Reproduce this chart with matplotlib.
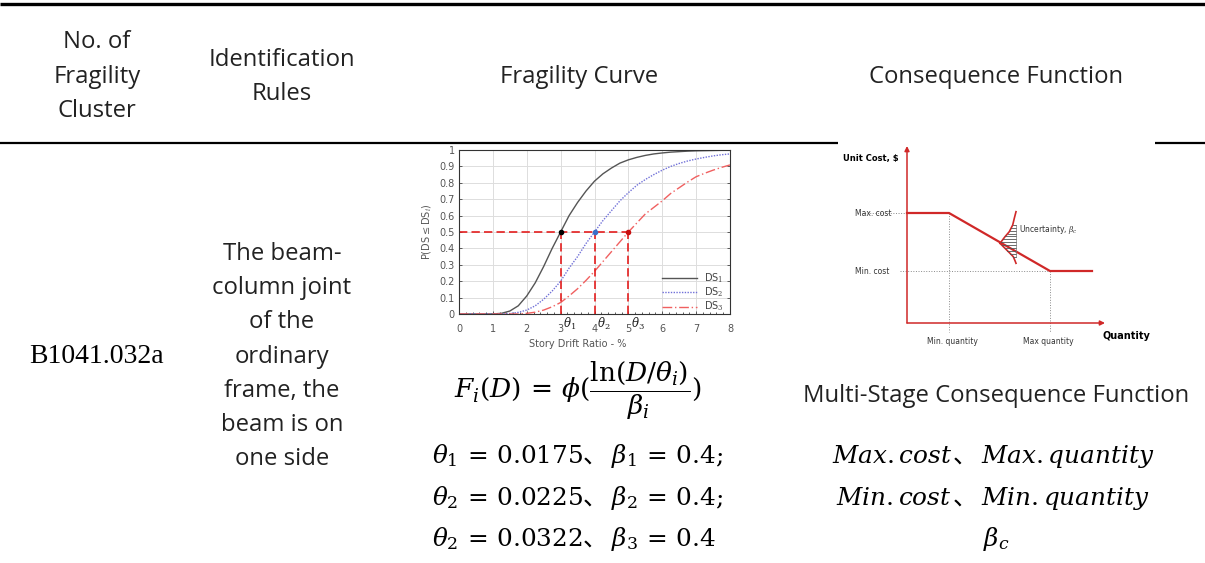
import numpy as np
import matplotlib
matplotlib.use('Agg')
import matplotlib.pyplot as plt
from matplotlib.ticker import MultipleLocator

W, H = 1205, 563

# ---------------- data ----------------
col_x = [97, 282, 579, 996]
header_lines = [["No. of", "Fragility", "Cluster"], ["Identification", "Rules"],
                ["Fragility Curve"], ["Consequence Function"]]
header_base = [[48, 83, 117], [66, 100], [83], [83]]
cluster_id = "B1041.032a"
rule_lines = ["The beam-", "column joint", "of the", "ordinary",
              "frame, the", "beam is on", "one side"]
rule_base = [260, 294, 328.5, 363, 397, 431, 465]

drift = [0, 0.25, 0.5, 0.75, 1, 1.25, 1.5, 1.75, 2, 2.25, 2.5, 2.75, 3, 3.25, 3.5, 3.75, 4,
         4.25, 4.5, 4.75, 5, 5.25, 5.5, 5.75, 6, 6.25, 6.5, 6.75, 7, 7.25, 7.5, 7.75, 8]
ds1 = [0, 0, 0, 0, 0.0004, 0.004, 0.018, 0.05, 0.11, 0.19, 0.29, 0.40, 0.50, 0.60, 0.68, 0.75, 0.81,
       0.855, 0.89, 0.92, 0.94, 0.955, 0.967, 0.976, 0.982, 0.987, 0.99, 0.993, 0.995, 0.996, 0.997, 0.998, 0.998]
ds2 = [0, 0, 0, 0, 0, 0, 0.003, 0.01, 0.024, 0.05, 0.09, 0.14, 0.20, 0.28, 0.35, 0.43, 0.50,
       0.57, 0.63, 0.69, 0.74, 0.785, 0.82, 0.85, 0.877, 0.90, 0.918, 0.933, 0.945, 0.955, 0.964, 0.971, 0.976]
ds3 = [0, 0, 0, 0, 0, 0, 0, 0, 0.004, 0.011, 0.024, 0.044, 0.07, 0.11, 0.154, 0.205, 0.26,
       0.32, 0.38, 0.44, 0.50, 0.555, 0.61, 0.65, 0.69, 0.735, 0.77, 0.805, 0.837, 0.858, 0.877, 0.894, 0.909]
medians = [3, 4, 5]
p_median = 0.5
ds_labels = [r'DS$_1$', r'DS$_2$', r'DS$_3$']
theta_labels = [r'$\theta_1$', r'$\theta_2$', r'$\theta_3$']

# consequence function schematic (arbitrary units)
cq = [0, 42, 143, 185]          # quantity
cc = [110, 110, 52, 52]         # unit cost
q_axis_len, c_axis_len = 198, 177
unc_up_q = [93, 98, 102.3, 105.7, 107.3, 109]
unc_up_c = [79.7, 86.3, 91.3, 98, 104.7, 111.3]
unc_lo_q = [93, 98, 103, 106.3, 108, 109]
unc_lo_c = [79.7, 74.7, 69.7, 66.3, 62.3, 59.7]

formula = r'$F_i(D)\,=\,\phi(\dfrac{\ln(D/\theta_i)}{\beta_i})$'
theta_left = [r'$\theta_1\,=\,0.0175$', r'$\theta_2\,=\,0.0225$', r'$\theta_2\,=\,0.0322$']
theta_right = [r'$\beta_1\,=\,0.4;$', r'$\beta_2\,=\,0.4;$', r'$\beta_3\,=\,0.4$']
cons_left = [r'$Max.cost$', r'$Min.cost$']
cons_right = [r'$Max.quantity$', r'$Min.quantity$']

# ---------------- style ----------------
plt.rcParams['mathtext.fontset'] = 'dejavuserif'
plt.rcParams['font.family'] = ['Open Sans', 'DejaVu Sans']

fig = plt.figure(figsize=(W / 100, H / 100), dpi=100)
bg = fig.add_axes([0, 0, 1, 1], zorder=0)
bg.set_xlim(0, W)
bg.set_ylim(H, 0)
bg.axis('off')

# table rules
bg.plot([0, W], [4.3, 4.3], color='black', lw=2.4, solid_capstyle='butt')
bg.plot([0, 838], [143.3, 143.3], color='black', lw=1.6, solid_capstyle='butt')
bg.plot([1155, W], [143.3, 143.3], color='black', lw=1.6, solid_capstyle='butt')

FS = 17.2
TXT = '#222222'
for x, lines, bases in zip(col_x, header_lines, header_base):
    for t, b in zip(lines, bases):
        bg.text(x, b, t, ha='center', va='baseline', fontsize=FS, color=TXT)

bg.text(col_x[0], 363, cluster_id, ha='center', va='baseline', fontsize=20,
        family='Liberation Serif', color='black')
for t, b in zip(rule_lines, rule_base):
    bg.text(col_x[1], b, t, ha='center', va='baseline', fontsize=FS, color=TXT)

bg.text(col_x[3], 402, "Multi-Stage Consequence Function", ha='center', va='baseline',
        fontsize=FS, color=TXT)

# formula
bg.text(578, 391, formula, ha='center', va='center', fontsize=19, color='black')
MF = 17.8
theta_base = [463, 505, 546]
for l, r, b in zip(theta_left, theta_right, theta_base):
    bg.text(583, b, l, ha='right', va='baseline', fontsize=MF)
    bg.text(583, b, '、', ha='left', va='baseline', fontsize=MF, family='Noto Sans CJK SC')
    bg.text(611, b, r, ha='left', va='baseline', fontsize=MF)
for l, r, b in zip(cons_left, cons_right, theta_base[:2]):
    bg.text(952, b, l, ha='right', va='baseline', fontsize=MF)
    bg.text(953, b, '、', ha='left', va='baseline', fontsize=MF, family='Noto Sans CJK SC')
    bg.text(981, b, r, ha='left', va='baseline', fontsize=MF)
bg.text(996, theta_base[2], r'$\beta_c$', ha='center', va='baseline', fontsize=MF)

# ---------------- fragility curve ----------------
def px_box(x0, y0, x1, y1):
    return [x0 / W, 1 - y1 / H, (x1 - x0) / W, (y1 - y0) / H]

ax = fig.add_axes(px_box(459, 150, 730, 314), zorder=2)
ax.plot(drift, ds1, color='#555555', lw=1.0, label=ds_labels[0])
ax.plot(drift, ds2, color='#7070d8', lw=1.0, ls=(0, (1, 1)), label=ds_labels[1])
ax.plot(drift, ds3, color='#f06060', lw=1.0, ls=(0, (7, 2, 1, 2)), label=ds_labels[2])
red = '#e41e1e'
ax.plot([0, medians[-1]], [p_median, p_median], color=red, lw=1.2, ls=(0, (5, 2.5)))
for m in medians:
    ax.plot([m, m], [0, p_median], color=red, lw=1.2, ls=(0, (5, 2.5)))
for m, c in zip(medians, ['black', '#3a6fc8', '#c81010']):
    ax.plot([m], [p_median], 'o', color=c, ms=3, zorder=5)
for m, t in zip(medians, theta_labels):
    ax.text(m + 0.07, -0.01, t, ha='left', va='top', fontsize=8.5, color='#222222')
ax.set_xlim(0, 8)
ax.set_ylim(0, 1)
ax.xaxis.set_major_locator(MultipleLocator(1))
ax.xaxis.set_minor_locator(MultipleLocator(0.2))
ax.set_yticks(np.arange(0, 1.01, 0.1))
ax.set_yticklabels(['0'] + [f'{v:.1f}' for v in np.arange(0.1, 0.95, 0.1)] + ['1'])
ax.grid(True, which='major', color='#dddddd', lw=0.7)
ax.tick_params(which='both', direction='in', top=False, right=True, colors='#444444',
               labelsize=7, labelcolor='#555555', length=2.5, width=0.6, pad=3)
ax.tick_params(axis='x', which='major', pad=7)
ax.tick_params(which='minor', length=1.5)
for s in ax.spines.values():
    s.set_color('#333333')
    s.set_linewidth(0.8)
ax.set_xlabel('Story Drift Ratio - %', fontsize=7, color='#555555', family='DejaVu Sans')
ax.xaxis.set_label_coords((578 - 459) / 271, -0.15)
ax.set_ylabel(r'P(DS$\leq$DS$_i$)', fontsize=7, color='#555555', family='DejaVu Sans')
ax.yaxis.set_label_coords(-0.095, 0.5)
for lab in ax.get_xticklabels() + ax.get_yticklabels():
    lab.set_family('DejaVu Sans')
leg = ax.legend(loc='lower right', frameon=False, fontsize=7, handlelength=3.6,
                bbox_to_anchor=(1.01, -0.05), labelspacing=0.1, handletextpad=0.7)
for t in leg.get_texts():
    t.set_color('#444444')
    t.set_family('DejaVu Sans')

# ---------------- consequence function ----------------
cx0, cy0 = 907, 323
axc = fig.add_axes(px_box(835, 145, 1160, 350), zorder=2)
axc.set_xlim(835 - cx0, 1160 - cx0)
axc.set_ylim(cy0 - 350, cy0 - 145)
axc.axis('off')
cred = '#d02828'
grey = '#8a8a8a'
axc.annotate('', xy=(0, c_axis_len), xytext=(0, 0),
             arrowprops=dict(arrowstyle='-|>', color=cred, lw=1.1, mutation_scale=7,
                             shrinkA=0, shrinkB=0))
axc.annotate('', xy=(q_axis_len, 0), xytext=(0, 0),
             arrowprops=dict(arrowstyle='-|>', color=cred, lw=1.1, mutation_scale=7,
                             shrinkA=0, shrinkB=0))
axc.plot([-45, 0], [cc[0], cc[0]], color=grey, lw=0.7, ls=':')
axc.plot([-7, cq[2]], [cc[2], cc[2]], color=grey, lw=0.7, ls=':')
axc.plot([cq[1], cq[1]], [cc[1], -9], color=grey, lw=0.7, ls=':')
axc.plot([cq[2], cq[2]], [cc[2], -9], color=grey, lw=0.7, ls=':')
axc.plot(cq, cc, color=cred, lw=1.6, solid_joinstyle='miter')
axc.plot(unc_up_q, unc_up_c, color=cred, lw=1.2)
axc.plot(unc_lo_q, unc_lo_c, color=cred, lw=1.2)
# hatched uncertainty band
yy = np.linspace(66.5, 98, 12)
upq = np.interp(yy, unc_up_c, unc_up_q)
loq = np.interp(yy, unc_lo_c[::-1], unc_lo_q[::-1])
left = np.where(yy >= unc_up_c[0], upq, loq)
for yv, lv in zip(yy, left):
    axc.plot([lv, 109], [yv, yv], color='#555555', lw=0.6)
axc.plot([109, 109], [66.5, 98], color='#777777', lw=0.5)

axc.text(-64, 164, 'Unit Cost, $', fontsize=6, fontweight='bold', va='center', ha='left',
         family='DejaVu Sans')
axc.text(-52, cc[0], 'Max. cost', fontsize=5.5, va='center', ha='left', family='DejaVu Sans',
         color='#333333')
axc.text(-52, cc[2], 'Min. cost', fontsize=5.5, va='center', ha='left', family='DejaVu Sans',
         color='#333333')
axc.text(cq[1] + 3, -18, 'Min. quantity', fontsize=5.5, va='center', ha='center',
         family='DejaVu Sans', color='#333333')
axc.text(cq[2] - 2, -18, 'Max quantity', fontsize=5.5, va='center', ha='center',
         family='DejaVu Sans', color='#333333')
axc.text(219, -13, 'Quantity', fontsize=7, fontweight='bold', va='center', ha='center',
         family='DejaVu Sans')
axc.text(112, 94, r'Uncertainty, $\beta_c$', fontsize=5.5, va='center', ha='left',
         family='DejaVu Sans', color='#333333')

fig.savefig('out.png', dpi=100)
